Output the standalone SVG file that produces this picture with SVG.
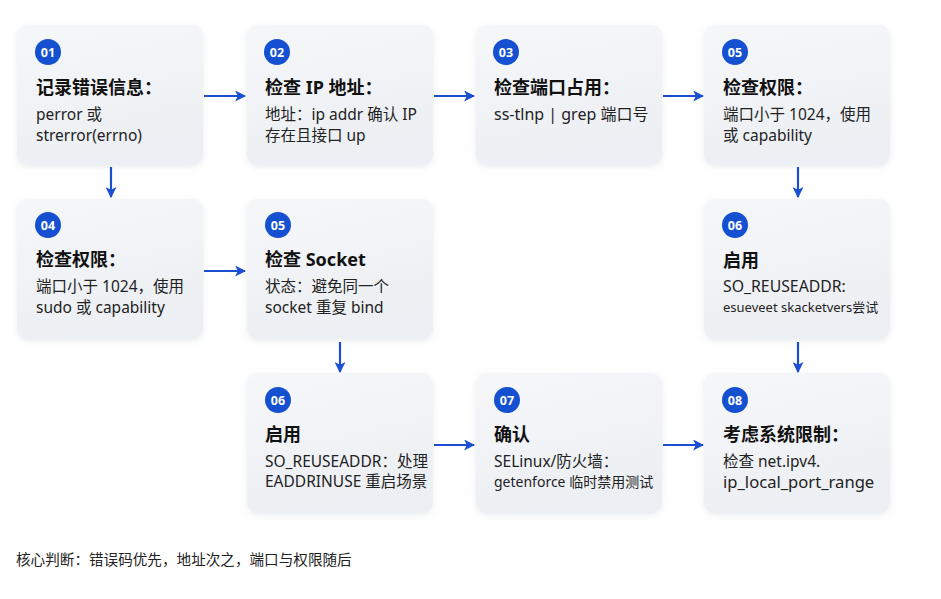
<svg xmlns="http://www.w3.org/2000/svg" width="941" height="599" viewBox="0 0 941 599">
<defs>
<linearGradient id="cardFill" x1="0" y1="0" x2="0.3" y2="1">
<stop offset="0" stop-color="#f6f7f9"/>
<stop offset="1" stop-color="#eceff3"/>
</linearGradient>
<filter id="sh" x="-10%" y="-10%" width="120%" height="125%">
<feDropShadow dx="0" dy="2" stdDeviation="3" flood-color="#8a94a6" flood-opacity="0.18"/>
</filter>
<marker id="ah" viewBox="0 0 10 10" refX="9" refY="5" markerWidth="5" markerHeight="5" orient="auto" markerUnits="strokeWidth">
<path d="M0,0 L10,5 L0,10 L2.5,5 Z" fill="#1a4fd1"/>
</marker>
<style>
.card{fill:url(#cardFill);filter:url(#sh);}
.badge{fill:#1450cf;}
.num{font-family:"Noto Sans","Noto Sans CJK SC",sans-serif;font-weight:700;font-size:12.5px;fill:#ffffff;text-anchor:middle;}
.title{font-family:"Noto Sans","Noto Sans CJK SC",sans-serif;font-weight:700;font-size:18px;fill:#111111;}
.body{font-family:"Noto Sans","Noto Sans CJK SC",sans-serif;font-size:15.5px;fill:#222222;}
.small{font-family:"Noto Sans","Noto Sans CJK SC",sans-serif;font-size:13px;fill:#222222;}
.foot{font-family:"Noto Sans CJK SC","Noto Sans",sans-serif;font-size:14.6px;fill:#222222;}
.conn{stroke:#1a4fd1;stroke-width:2.2;fill:none;marker-end:url(#ah);}
</style>
</defs>
<rect width="941" height="599" fill="#ffffff"/>

<g id="n01">
<rect class="card" x="17" y="25" width="186" height="140" rx="11"/>
<circle class="badge" cx="48" cy="52" r="13"/>
<text class="num" x="48" y="56.5">01</text>
<text class="title" x="36" y="94">记录错误信息：</text>
<text class="body" x="36" y="120">perror 或</text>
<text class="body" x="36" y="141">strerror(errno)</text>
</g>

<g id="n02">
<rect class="card" x="247" y="25" width="186" height="140" rx="11"/>
<circle class="badge" cx="277" cy="52" r="13"/>
<text class="num" x="277" y="56.5">02</text>
<text class="title" x="265" y="94">检查 IP 地址：</text>
<text class="body" x="265" y="120">地址：ip addr 确认 IP</text>
<text class="body" x="265" y="141">存在且接口 up</text>
</g>

<g id="n03">
<rect class="card" x="476" y="25" width="186" height="140" rx="11"/>
<circle class="badge" cx="506" cy="52" r="13"/>
<text class="num" x="506" y="56.5">03</text>
<text class="title" x="494" y="94">检查端口占用：</text>
<text class="body" x="494" y="120" style="font-size:16px">ss-tlnp | grep 端口号</text>
</g>

<g id="n05a">
<rect class="card" x="704" y="25" width="186" height="140" rx="11"/>
<circle class="badge" cx="735" cy="52" r="13"/>
<text class="num" x="735" y="56.5">05</text>
<text class="title" x="723" y="94">检查权限：</text>
<text class="body" x="723" y="120">端口小于 1024，使用</text>
<text class="body" x="723" y="141">或 capability</text>
</g>

<g id="n04">
<rect class="card" x="17" y="199" width="186" height="140" rx="11"/>
<circle class="badge" cx="48" cy="225" r="13"/>
<text class="num" x="48" y="229.5">04</text>
<text class="title" x="36" y="266">检查权限：</text>
<text class="body" x="36" y="292">端口小于 1024，使用</text>
<text class="body" x="36" y="313">sudo 或 capability</text>
</g>

<g id="n05b">
<rect class="card" x="247" y="199" width="186" height="140" rx="11"/>
<circle class="badge" cx="278" cy="225" r="13"/>
<text class="num" x="278" y="229.5">05</text>
<text class="title" x="265" y="266">检查 Socket</text>
<text class="body" x="265" y="292">状态：避免同一个</text>
<text class="body" x="265" y="313">socket 重复 bind</text>
</g>

<g id="n06a">
<rect class="card" x="704" y="199" width="186" height="140" rx="11"/>
<circle class="badge" cx="735" cy="225" r="13"/>
<text class="num" x="735" y="229.5">06</text>
<text class="title" x="723" y="267">启用</text>
<text class="body" x="723" y="292" style="font-size:15.8px">SO_REUSEADDR:</text>
<text class="small" x="723" y="312">esueveet skacketvers尝试</text>
</g>

<g id="n06b">
<rect class="card" x="247" y="373" width="186" height="140" rx="11"/>
<circle class="badge" cx="278" cy="400" r="13"/>
<text class="num" x="278" y="404.5">06</text>
<text class="title" x="265" y="441">启用</text>
<text class="body" x="265" y="467">SO_REUSEADDR：处理</text>
<text class="body" x="265" y="487">EADDRINUSE 重启场景</text>
</g>

<g id="n07">
<rect class="card" x="476" y="373" width="186" height="140" rx="11"/>
<circle class="badge" cx="507" cy="400" r="13"/>
<text class="num" x="507" y="404.5">07</text>
<text class="title" x="494" y="441">确认</text>
<text class="body" x="494" y="467">SELinux/防火墙：</text>
<text class="body" x="494" y="487" style="font-size:14px">getenforce 临时禁用测试</text>
</g>

<g id="n08">
<rect class="card" x="704" y="373" width="186" height="140" rx="11"/>
<circle class="badge" cx="735" cy="400" r="13"/>
<text class="num" x="735" y="404.5">08</text>
<text class="title" x="723" y="441">考虑系统限制：</text>
<text class="body" x="723" y="467">检查 net.ipv4.</text>
<text class="body" x="723" y="488" style="font-size:16.6px">ip_local_port_range</text>
</g>

<g id="connectors">
<line class="conn" x1="204" y1="96" x2="245" y2="96"/>
<line class="conn" x1="434" y1="96" x2="474" y2="96"/>
<line class="conn" x1="663" y1="96" x2="703" y2="96"/>
<line class="conn" x1="111" y1="167" x2="111" y2="197"/>
<line class="conn" x1="798" y1="167" x2="798" y2="197"/>
<line class="conn" x1="204" y1="271" x2="245" y2="271"/>
<line class="conn" x1="340" y1="342" x2="340" y2="372"/>
<line class="conn" x1="798" y1="342" x2="798" y2="372"/>
<line class="conn" x1="434" y1="445" x2="474" y2="445"/>
<line class="conn" x1="663" y1="445" x2="703" y2="445"/>
</g>

<text class="foot" x="16" y="565">核心判断：错误码优先，地址次之，端口与权限随后</text>
</svg>
